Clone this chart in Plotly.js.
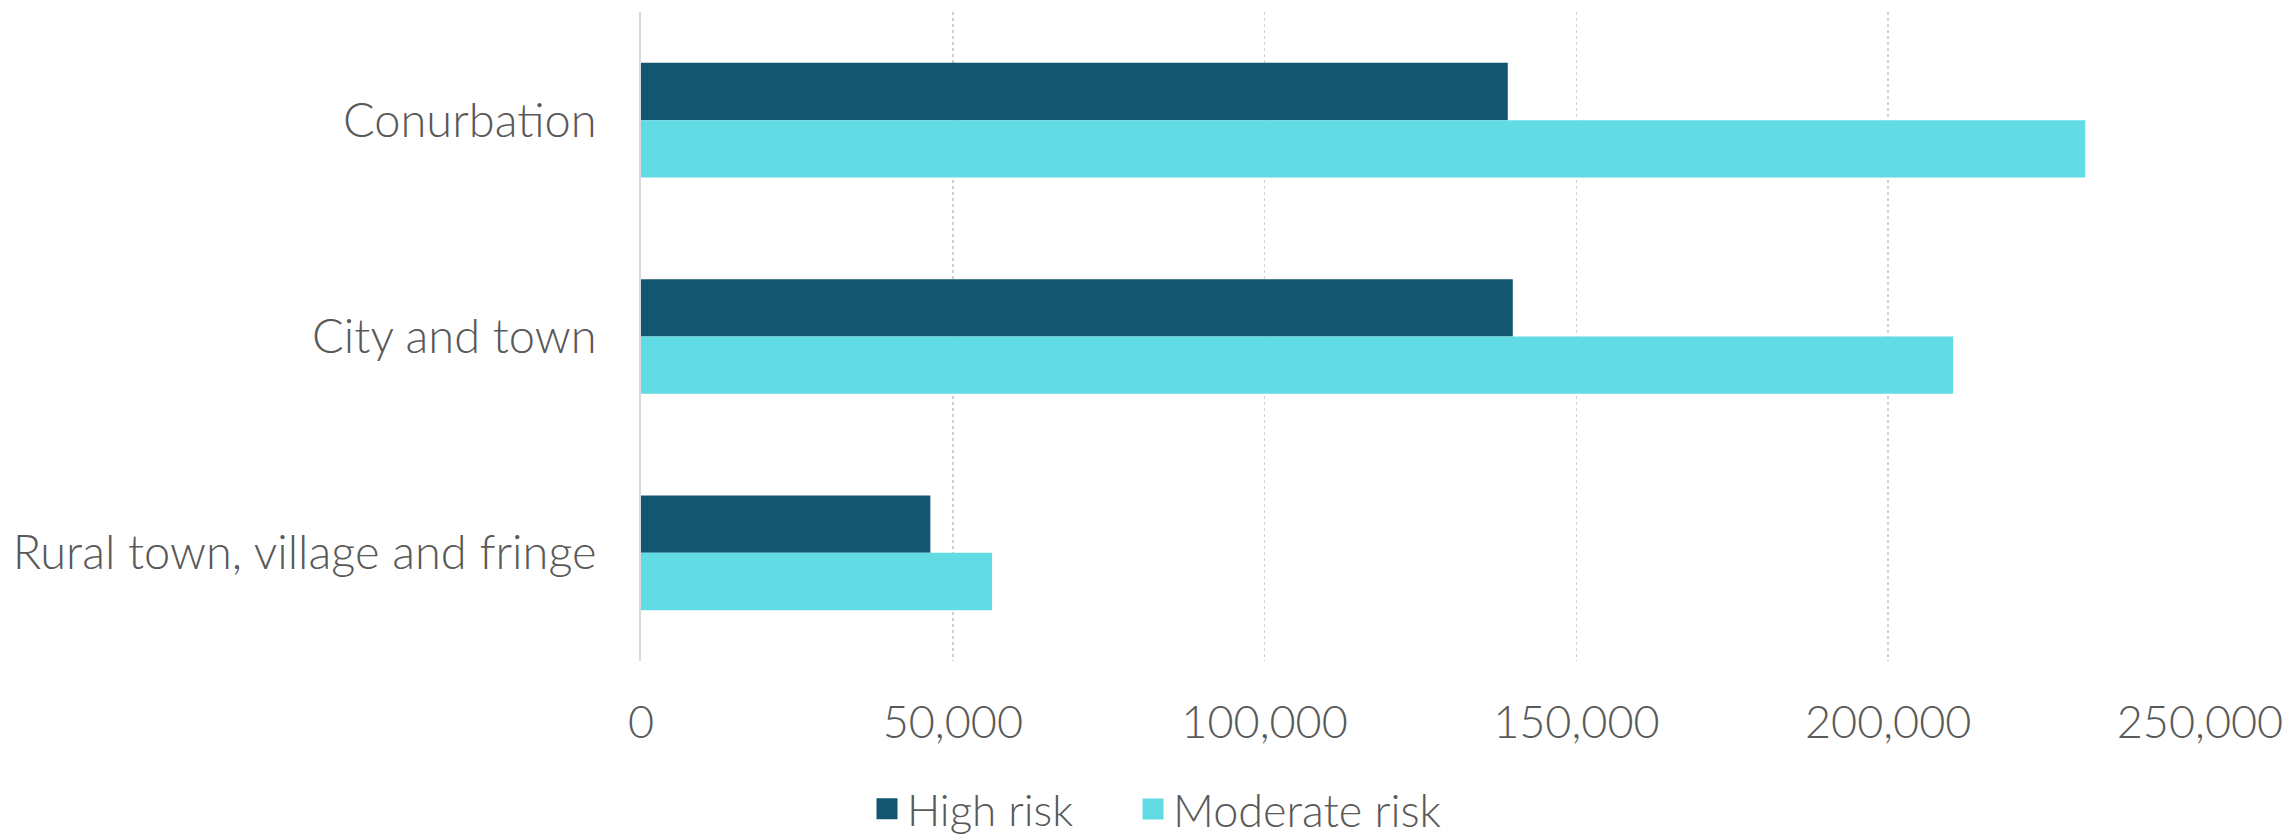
<!DOCTYPE html>
<html>
<head>
<meta charset="utf-8">
<script src="https://cdn.plot.ly/plotly-3.0.1.min.js"></script>
<style>
html,body{margin:0;padding:0;background:#fff;}
#chart{width:2294px;height:836px;}
</style>
</head>
<body>
<div id="chart"></div>
<script>
const categories = ["Conurbation", "City and town", "Rural town, village and fringe"];
const highRisk = [139000, 139800, 46400];
const moderateRisk = [231600, 210400, 56300];
const xTickVals = [0, 50000, 100000, 150000, 200000, 250000];
const xTickText = ["0", "50,000", "100,000", "150,000", "200,000", "250,000"];

const fontFam = "Lato, 'Open Sans', sans-serif";
const textCol = "#595959";

const traces = [
  {
    type: "bar", orientation: "h", name: "High risk",
    y: categories, x: highRisk, legend: "legend",
    marker: {color: "#135670"}
  },
  {
    type: "bar", orientation: "h", name: "Moderate risk",
    y: categories, x: moderateRisk, legend: "legend2",
    marker: {color: "#62DCE4"}
  }
];

const legendBase = {
  orientation: "h", xref: "container", xanchor: "left",
  yref: "container", y: 0.032, yanchor: "middle",
  font: {family: fontFam, color: textCol, size: 44, weight: 300},
  itemwidth: 30, bgcolor: "rgba(0,0,0,0)"
};

const layout = {
  width: 2294, height: 836,
  margin: {l: 641, r: 94, t: 12, b: 175, pad: 0, autoexpand: false},
  paper_bgcolor: "#fff", plot_bgcolor: "#fff",
  barmode: "group", bargap: 0.47, bargroupgap: 0,
  font: {family: fontFam, color: textCol, size: 44, weight: 300},
  xaxis: {
    range: [0, 250000], automargin: false,
    tickvals: xTickVals, ticktext: xTickText,
    showgrid: true, gridcolor: "#d0d0d0", gridwidth: 1.5, griddash: "dot",
    zeroline: false, showline: false, ticks: "",
    ticklabelstandoff: 31,
    tickfont: {family: fontFam, color: textCol, size: 45, weight: 300},
    fixedrange: true
  },
  yaxis: {
    type: "category", autorange: "reversed", automargin: false,
    showgrid: false, zeroline: false, ticks: "",
    showline: true, linecolor: "#d9d9d9", linewidth: 2,
    ticklabelstandoff: 33,
    tickfont: {family: fontFam, color: textCol, size: 47, weight: 300},
    fixedrange: true
  },
  showlegend: true,
  legend: Object.assign({}, legendBase, {x: 867 / 2294}),
  legend2: Object.assign({}, legendBase, {x: 1133 / 2294, font: {family: fontFam, color: textCol, size: 45, weight: 300}})
};

Plotly.newPlot("chart", traces, layout, {displayModeBar: false, staticPlot: true}).then(function(gd){
  gd.querySelectorAll(".legendpoints path").forEach(function(p){
    const t = p.getAttribute("transform") || "";
    p.setAttribute("transform", t + " scale(1.75)");
  });
});
</script>
</body>
</html>
